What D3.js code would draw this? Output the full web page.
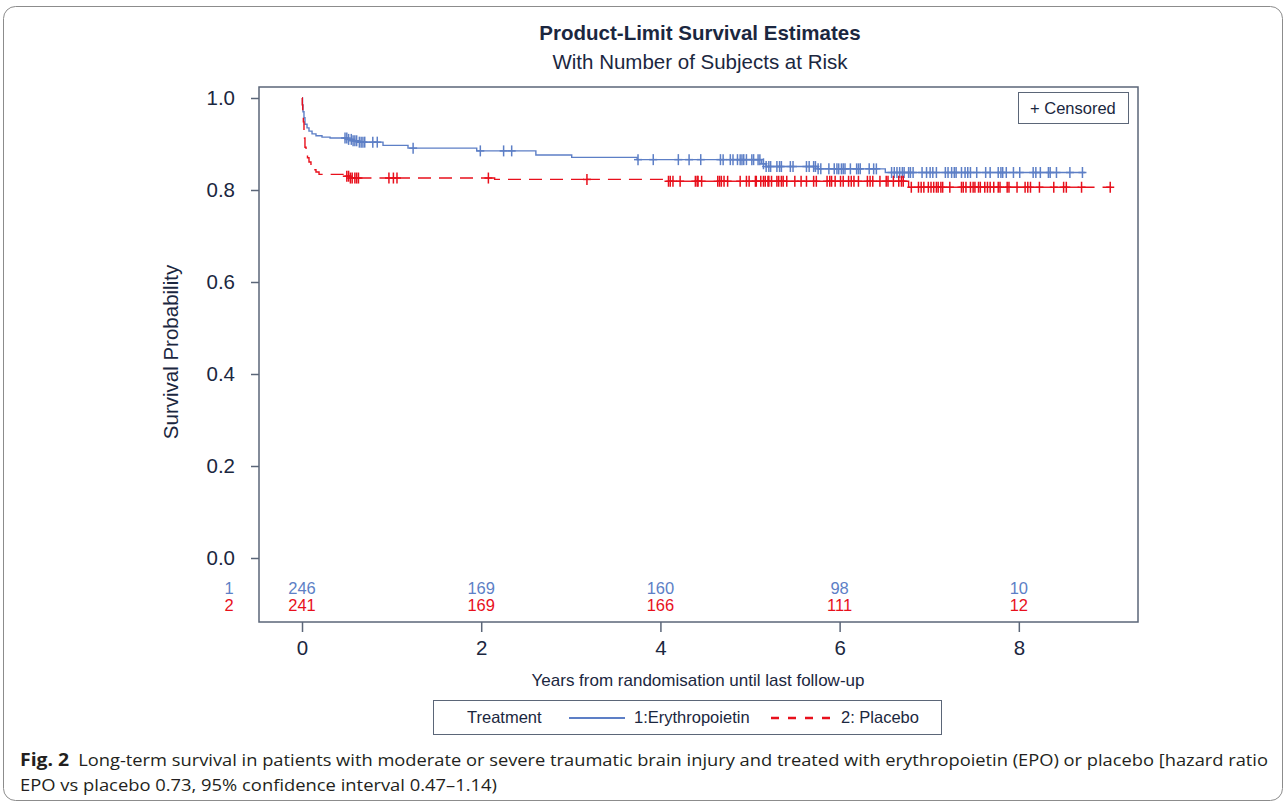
<!DOCTYPE html>
<html>
<head>
<meta charset="utf-8">
<script src="https://cdn.jsdelivr.net/npm/d3@7"></script>
<style>
  body { margin: 0; background: #fff; }
  svg text { font-family: "Liberation Sans", Arial, sans-serif; }
  svg text.caption { font-family: "Open Sans", "Noto Sans", sans-serif; }
</style>
</head>
<body>
<div id="chart"></div>
<script>
// step times (years) and survival after each step
const epoTimes = [0, 0.006, 0.011, 0.022, 0.033, 0.056, 0.078, 0.112, 0.156, 0.223, 0.313, 0.513, 0.558, 0.625, 0.904, 1.183, 1.95, 2.61, 3.01, 3.74, 5.13, 5.18, 5.76, 6.51];
const epoSurv  = [1.0, 0.985, 0.970, 0.957, 0.943, 0.935, 0.928, 0.922, 0.918, 0.915, 0.913, 0.910, 0.907, 0.904, 0.897, 0.891, 0.885, 0.876, 0.871, 0.866, 0.857, 0.851, 0.846, 0.838];
const epoEnd = 8.74;
const epoCensored = [0.48, 0.50, 0.52, 0.55, 0.57, 0.59, 0.61, 0.64, 0.66, 0.68, 0.70, 0.79, 0.84, 1.24, 1.99, 2.25, 2.34,
  3.75, 3.92, 4.20, 4.32, 4.45, 4.67, 4.70, 4.78, 4.81, 4.86, 4.89, 4.91, 4.93, 4.96, 5.02, 5.04, 5.09, 5.11, 5.15,
  5.18, 5.21, 5.23, 5.30, 5.33, 5.35, 5.45, 5.48, 5.63, 5.66, 5.71, 5.73, 5.76, 5.79, 5.88, 5.94, 5.97, 5.99, 6.02,
  6.04, 6.06, 6.12, 6.19, 6.21, 6.23, 6.33, 6.38, 6.41, 6.58, 6.61, 6.64, 6.67, 6.70, 6.72, 6.77, 6.79, 6.82, 6.92,
  6.97, 7.01, 7.04, 7.08, 7.18, 7.21, 7.25, 7.28, 7.30, 7.36, 7.40, 7.43, 7.46, 7.53, 7.63, 7.68, 7.77, 7.80, 7.82,
  7.86, 7.94, 8.01, 8.16, 8.19, 8.24, 8.33, 8.35, 8.42, 8.57, 8.71];

const plaTimes = [0, 0.003, 0.008, 0.015, 0.022, 0.028, 0.033, 0.045, 0.061, 0.078, 0.100, 0.123, 0.156, 0.190, 0.48, 0.54, 2.15, 4.03, 6.77];
const plaSurv  = [1.0, 0.985, 0.967, 0.948, 0.930, 0.913, 0.893, 0.880, 0.870, 0.861, 0.852, 0.844, 0.839, 0.834, 0.830, 0.826, 0.823, 0.819, 0.806];
const plaEnd = 9.03;
const plaCensored = [0.50, 0.52, 0.54, 0.56, 0.59, 0.61, 0.63, 0.97, 1.02, 1.06, 2.08, 3.18, 4.09, 4.11, 4.14, 4.22,
  4.39, 4.41, 4.42, 4.46, 4.64, 4.66, 4.68, 4.71, 4.75, 4.89, 4.96, 4.99, 5.06, 5.07, 5.12, 5.15, 5.17, 5.20, 5.21,
  5.24, 5.30, 5.32, 5.35, 5.37, 5.41, 5.50, 5.57, 5.63, 5.71, 5.74, 5.86, 5.89, 5.91, 5.95, 6.01, 6.04, 6.10, 6.13,
  6.16, 6.21, 6.31, 6.34, 6.37, 6.45, 6.52, 6.54, 6.60, 6.66, 6.69, 6.71, 6.80, 6.88, 6.91, 6.94, 6.99, 7.02, 7.05,
  7.08, 7.10, 7.13, 7.15, 7.23, 7.36, 7.38, 7.41, 7.46, 7.49, 7.51, 7.55, 7.57, 7.62, 7.65, 7.68, 7.72, 7.77, 7.79,
  7.87, 7.89, 7.98, 8.07, 8.10, 8.13, 8.23, 8.39, 8.50, 8.53, 8.70, 9.02];

const riskTimes = [0, 2, 4, 6, 8];
const epoRisk = [246, 169, 160, 98, 10];
const plaRisk = [241, 169, 166, 111, 12];

const xTicks = [0, 2, 4, 6, 8];
const yTicks = [0, 0.2, 0.4, 0.6, 0.8, 1.0];

const blue = "#5d7fc6";
const red = "#e8101c";
const axisCol = "#5b6678";
const textCol = "#1b2740";

const svg = d3.select('#chart').append('svg')
  .attr('width', 1288)
  .attr('height', 805);

// outer panel border
svg.append('rect')
  .attr('x', 3.5).attr('y', 6.5)
  .attr('width', 1279).attr('height', 794)
  .attr('rx', 12)
  .attr('fill', 'none')
  .attr('stroke', '#8c8c8c')
  .attr('stroke-width', 1);

const frame = {left: 259, right: 1138, top: 87, bottom: 622};

const x = d3.scaleLinear().domain([-0.48, 9.33]).range([frame.left, frame.right]);
const y = d3.scaleLinear().domain([0, 1]).range([558, 98]);

// titles
svg.append('text')
  .attr('x', 700).attr('y', 40)
  .attr('text-anchor', 'middle')
  .attr('font-size', 20.5).attr('font-weight', 'bold')
  .attr('fill', textCol)
  .text('Product-Limit Survival Estimates');
svg.append('text')
  .attr('x', 700).attr('y', 69)
  .attr('text-anchor', 'middle')
  .attr('font-size', 20.5)
  .attr('fill', textCol)
  .text('With Number of Subjects at Risk');

// frame
svg.append('rect')
  .attr('x', frame.left).attr('y', frame.top)
  .attr('width', frame.right - frame.left)
  .attr('height', frame.bottom - frame.top)
  .attr('fill', 'none')
  .attr('stroke', axisCol)
  .attr('stroke-width', 1.5);

// y axis
const yAxis = svg.append('g')
  .attr('transform', `translate(${frame.left},0)`)
  .call(d3.axisLeft(y).tickValues(yTicks).tickFormat(d3.format('.1f')).tickSize(8).tickPadding(16));
yAxis.select('.domain').remove();
yAxis.selectAll('line').attr('stroke', axisCol).attr('stroke-width', 1.5);
yAxis.selectAll('text').attr('font-size', 20.5).attr('fill', textCol);

// x axis
const xAxis = svg.append('g')
  .attr('transform', `translate(0,${frame.bottom})`)
  .call(d3.axisBottom(x).tickValues(xTicks).tickFormat(d3.format('d')).tickSize(10).tickPadding(8));
xAxis.select('.domain').remove();
xAxis.selectAll('line').attr('stroke', axisCol).attr('stroke-width', 1.5);
xAxis.selectAll('text').attr('font-size', 20.5).attr('fill', textCol);

svg.append('text')
  .attr('x', 698).attr('y', 686)
  .attr('text-anchor', 'middle')
  .attr('font-size', 17).attr('fill', textCol)
  .text('Years from randomisation until last follow-up');

svg.append('text')
  .attr('transform', 'translate(178,352) rotate(-90)')
  .attr('text-anchor', 'middle')
  .attr('font-size', 20.5).attr('fill', textCol)
  .text('Survival Probability');

// step curve helpers
function survAt(times, surv, t) {
  let s = surv[0];
  for (let i = 0; i < times.length; i++) {
    if (times[i] <= t) s = surv[i];
  }
  return s;
}

function piece(times, surv, t0, t1) {
  let pts = [{t: t0, s: survAt(times, surv, t0)}];
  times.forEach(function(e) {
    if (e > t0 && e <= t1) pts.push({t: e, s: survAt(times, surv, e)});
  });
  pts.push({t: t1, s: survAt(times, surv, t1)});
  return pts;
}

const stepLine = d3.line()
  .x(function(d) { return x(d.t); })
  .y(function(d) { return y(d.s); })
  .curve(d3.curveStepAfter);

// blue: one solid path
svg.append('path')
  .attr('d', stepLine(piece(epoTimes, epoSurv, 0, epoEnd)))
  .attr('fill', 'none')
  .attr('stroke', blue)
  .attr('stroke-width', 1.4);

// red: dashed, pattern restarts between censor marks
const cuts = [0].concat(plaCensored).concat([plaEnd]);
const redPieces = [];
for (let i = 0; i < cuts.length - 1; i++) {
  if (cuts[i + 1] > cuts[i]) redPieces.push(piece(plaTimes, plaSurv, cuts[i], cuts[i + 1]));
}
svg.append('g').selectAll('path')
  .data(redPieces)
  .enter()
  .append('path')
  .attr('d', function(d) { return stepLine(d); })
  .attr('fill', 'none')
  .attr('stroke', red)
  .attr('stroke-width', 1.4)
  .attr('stroke-dasharray', '13,8');

// censored marks
function drawCensored(list, times, surv, col) {
  const g = svg.append('g').attr('stroke', col).attr('stroke-width', 1.5);
  g.selectAll('line.v')
    .data(list)
    .enter()
    .append('line')
    .attr('class', 'v')
    .attr('x1', function(d) { return x(d); })
    .attr('x2', function(d) { return x(d); })
    .attr('y1', function(d) { return y(survAt(times, surv, d)) - 5.5; })
    .attr('y2', function(d) { return y(survAt(times, surv, d)) + 5.5; });
  g.selectAll('line.h')
    .data(list)
    .enter()
    .append('line')
    .attr('class', 'h')
    .attr('x1', function(d) { return x(d) - 4; })
    .attr('x2', function(d) { return x(d) + 4; })
    .attr('y1', function(d) { return y(survAt(times, surv, d)); })
    .attr('y2', function(d) { return y(survAt(times, surv, d)); });
}
drawCensored(epoCensored, epoTimes, epoSurv, blue);
drawCensored(plaCensored, plaTimes, plaSurv, red);

// at risk table
const riskRows = [
  {label: '1', vals: epoRisk, col: blue, y: 594},
  {label: '2', vals: plaRisk, col: red, y: 611}
];
riskRows.forEach(function(row) {
  svg.append('text')
    .attr('x', 229).attr('y', row.y)
    .attr('text-anchor', 'middle')
    .attr('font-size', 16.5).attr('fill', row.col)
    .text(row.label);
  svg.append('g').selectAll('text')
    .data(row.vals)
    .enter()
    .append('text')
    .attr('x', function(d, i) { return x(riskTimes[i]); })
    .attr('y', row.y)
    .attr('text-anchor', 'middle')
    .attr('font-size', 16.5).attr('fill', row.col)
    .text(function(d) { return d; });
});

// censored inset legend
svg.append('rect')
  .attr('x', 1018.5).attr('y', 92.5)
  .attr('width', 110).attr('height', 31)
  .attr('fill', '#fff')
  .attr('stroke', axisCol).attr('stroke-width', 1);
svg.append('text')
  .attr('x', 1030).attr('y', 114)
  .attr('font-size', 16.5).attr('fill', textCol)
  .text('+ Censored');

// bottom legend
svg.append('rect')
  .attr('x', 433.5).attr('y', 700.5)
  .attr('width', 508).attr('height', 34)
  .attr('fill', 'none')
  .attr('stroke', axisCol).attr('stroke-width', 1);
svg.append('text')
  .attr('x', 467).attr('y', 723)
  .attr('font-size', 16.5).attr('fill', textCol)
  .text('Treatment');
svg.append('line')
  .attr('x1', 569).attr('x2', 625).attr('y1', 718).attr('y2', 718)
  .attr('stroke', blue).attr('stroke-width', 2);
svg.append('text')
  .attr('x', 634).attr('y', 723)
  .attr('font-size', 16.5).attr('fill', textCol)
  .text('1:Erythropoietin');
svg.append('line')
  .attr('x1', 771).attr('x2', 830).attr('y1', 718).attr('y2', 718)
  .attr('stroke', red).attr('stroke-width', 2.5)
  .attr('stroke-dasharray', '8,9');
svg.append('text')
  .attr('x', 841).attr('y', 723)
  .attr('font-size', 16.5).attr('fill', textCol)
  .text('2: Placebo');

// caption
const cap1 = svg.append('text')
  .attr('class', 'caption')
  .attr('x', 20).attr('y', 766)
  .attr('font-size', 17).attr('fill', '#231f20')
  .attr('textLength', 1248).attr('lengthAdjust', 'spacingAndGlyphs');
cap1.append('tspan').attr('font-weight', 'bold').attr('font-size', 18).text('Fig. 2');
cap1.append('tspan').text('\u2002Long-term survival in patients with moderate or severe traumatic brain injury and treated with erythropoietin (EPO) or placebo [hazard ratio');
svg.append('text')
  .attr('class', 'caption')
  .attr('x', 20).attr('y', 791)
  .attr('font-size', 17).attr('fill', '#231f20')
  .attr('textLength', 477).attr('lengthAdjust', 'spacingAndGlyphs')
  .text('EPO vs placebo 0.73, 95% confidence interval 0.47\u20131.14)');
</script>
</body>
</html>
